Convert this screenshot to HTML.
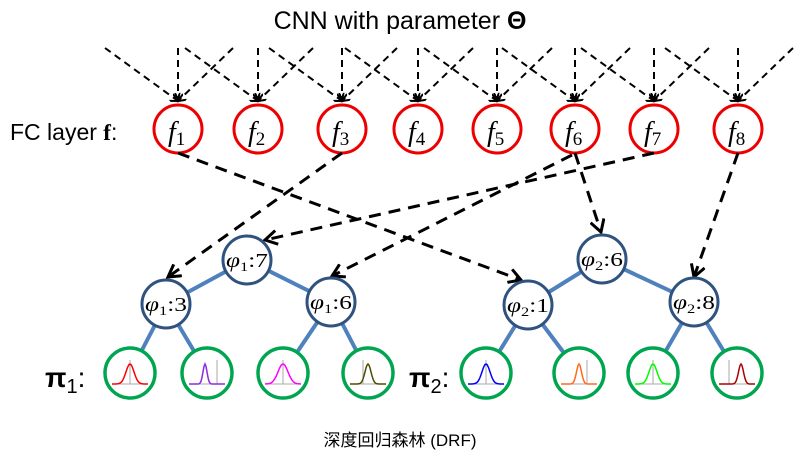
<!DOCTYPE html>
<html><head><meta charset="utf-8"><style>
html,body{margin:0;padding:0;background:#fff;width:800px;height:459px;overflow:hidden}
svg{display:block}
.t{font-family:"Liberation Sans","Noto Sans CJK SC",sans-serif}
.m{font-family:"Liberation Serif","DejaVu Serif",serif;font-style:italic}
</style></head><body>
<svg id="s" width="800" height="459" viewBox="0 0 800 459" xmlns="http://www.w3.org/2000/svg">
<defs>
<marker id="a" markerWidth="10" markerHeight="10" refX="8" refY="5" orient="auto" markerUnits="userSpaceOnUse">
<path d="M1,0 L8,5 L1,10" fill="none" stroke="#000" stroke-width="2"/></marker>
<marker id="b" markerWidth="16" markerHeight="16" refX="13" refY="8" orient="auto" markerUnits="userSpaceOnUse">
<path d="M1,1 L13,8 L1,15" fill="none" stroke="#000" stroke-width="3"/></marker>
</defs>
<text x="400" y="29" text-anchor="middle" class="t" font-size="25">CNN with parameter <tspan font-weight="bold">Θ</tspan></text>
<text x="10" y="140" class="t" font-size="23">FC layer <tspan font-family="Liberation Serif" font-weight="bold">f</tspan>:</text>
<g id="gtop"></g>
<g id="gmid"></g>
<g id="gtrees"></g>
<text x="45" y="387" class="t" font-size="28" font-weight="bold">π<tspan font-size="20" font-weight="normal" dy="6">1</tspan><tspan dy="-6" font-weight="normal">:</tspan></text>
<text x="409" y="387" class="t" font-size="28" font-weight="bold">π<tspan font-size="20" font-weight="normal" dy="6">2</tspan><tspan dy="-6" font-weight="normal">:</tspan></text>
<text x="400" y="446" text-anchor="middle" class="t" font-size="17">深度回归森林 (DRF)</text>
</svg>
<script>
(function(){
var NS="http://www.w3.org/2000/svg";
function el(p,t,a,txt){var e=document.createElementNS(NS,t);for(var k in a)e.setAttribute(k,a[k]);if(txt!==undefined)e.textContent=txt;p.appendChild(e);return e;}
var gt=document.getElementById('gtop'),gm=document.getElementById('gmid'),tr=document.getElementById('gtrees');
var fx=[178,258,342,418,497,575,654,738];
fx.forEach(function(x,i){
  [[x-73,48],[x,48],[x+55,48]].forEach(function(s){
    el(gt,'line',{x1:s[0],y1:s[1],x2:x,y2:101,stroke:'#000','stroke-width':2,'stroke-dasharray':'7,5','marker-end':'url(#a)'});
  });
  el(gt,'ellipse',{cx:x,cy:129,rx:24,ry:24,fill:'#fff',stroke:'#e00','stroke-width':3});
  var t=el(gt,'text',{x:x-10,y:141,'font-size':28,'class':'m'},'f');
  el(t,'tspan',{'font-size':19,'font-style':'normal',dy:4},String(i+1));
});
[[178,153,521,280],[342,153,168,277],[575,153,601,232],[654,153,265,240],[572,155,332,276],[738,153,694,277]].forEach(function(q){
  el(gm,'line',{x1:q[0],y1:q[1],x2:q[2],y2:q[3],stroke:'#000','stroke-width':3,'stroke-dasharray':'12,8','marker-end':'url(#b)'});
});
var blue='#4f81bd',dark='#2f527f';
function tree(root,l,r,leaves,labs,cols,kinds){
  var nodes=[root,l,r];
  el(tr,'line',{x1:root[0],y1:root[1],x2:l[0],y2:l[1],stroke:blue,'stroke-width':4});
  el(tr,'line',{x1:root[0],y1:root[1],x2:r[0],y2:r[1],stroke:blue,'stroke-width':4});
  leaves.forEach(function(lf,i){var p=i<2?l:r;el(tr,'line',{x1:p[0],y1:p[1],x2:lf,y2:373,stroke:blue,'stroke-width':4});});
  nodes.forEach(function(n,i){
    el(tr,'circle',{cx:n[0],cy:n[1],r:24,fill:'#fff',stroke:dark,'stroke-width':3});
    var t=el(tr,'text',{x:n[0]-21,y:n[1]+7,'font-size':20,'class':'m',textLength:42,lengthAdjust:'spacingAndGlyphs'},'φ');
    el(t,'tspan',{'font-size':13,'font-style':'normal',dy:4},labs[0]);
    el(t,'tspan',{'font-style':'normal',dy:-4},':'+labs[i+1]);
  });
  leaves.forEach(function(lf,i){
    el(tr,'circle',{cx:lf,cy:373,r:25,fill:'#fff',stroke:'#00a550','stroke-width':3.5});
    var bx=lf-18,by=384,w=36;
    el(tr,'line',{x1:bx,y1:by,x2:bx+w,y2:by,stroke:'#aaa','stroke-width':1});
    el(tr,'line',{x1:lf+kinds[i][1],y1:by,x2:lf+kinds[i][1],y2:by-24,stroke:'#aaa','stroke-width':1});
    var d='',s=kinds[i][0],mu=kinds[i][2];
    for(var k=0;k<=36;k++){var xx=bx+k;var y=by-20*Math.exp(-Math.pow((xx-lf-mu)/s,2)/2);d+=(k?'L':'M')+xx.toFixed(1)+','+y.toFixed(1);}
    el(tr,'path',{d:d,fill:'none',stroke:cols[i],'stroke-width':1.5});
  });
}
tree([247,260],[166,304],[331,302],[130,207,283,368],['1','7','3','6'],['#f00','#8a2be2','#f0f','#4d4d00'],[[4,0,0],[2,10,-2],[5,0,0],[3,-5,0]]);
tree([602,259],[528,305],[694,302],[486,579,653,737],['2','6','1','8'],['#00f','#ff6a1a','#0f0','#a00'],[[4,0,0],[2.5,8,0],[4,0,0],[2.5,-8,4]]);
})();
</script>
</body></html>
